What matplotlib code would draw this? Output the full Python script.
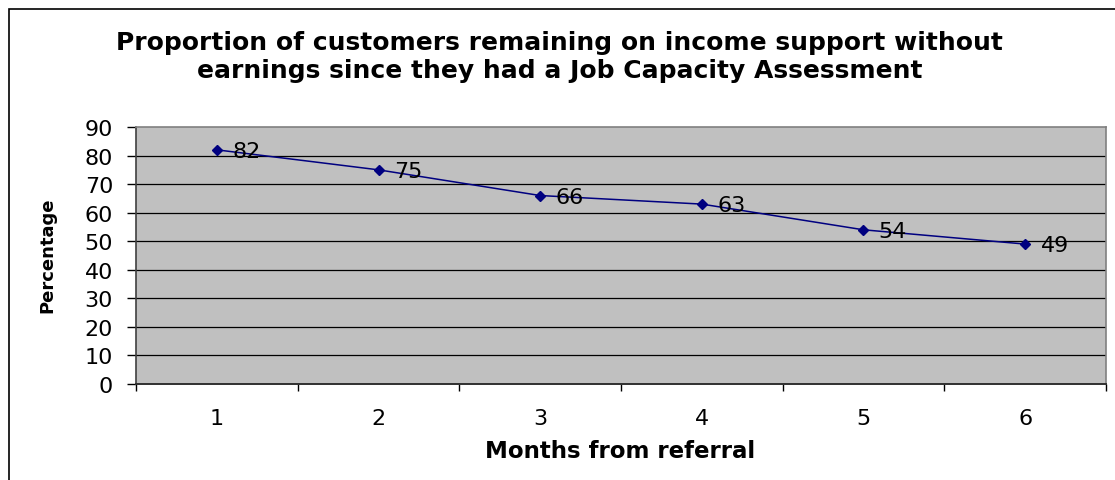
import matplotlib
matplotlib.use('Agg')
from matplotlib import pyplot as plt
from matplotlib.patches import Rectangle

# months since referral and share still on income support (%)
months = [1, 2, 3, 4, 5, 6]
month_labels = ['1', '2', '3', '4', '5', '6']
percentage = [82, 75, 66, 63, 54, 49]
y_ticks = [0, 10, 20, 30, 40, 50, 60, 70, 80, 90]

plt.rcParams['font.family'] = ['DejaVu Sans']

fig = plt.figure(figsize=(11.15, 4.81), dpi=100)

# outer chart frame
fig.patches.append(Rectangle((9 / 1115, -0.05), 1.2, 1.05 - 10 / 481,
                             transform=fig.transFigure, fill=False,
                             edgecolor='black', linewidth=1.2, zorder=0))

ax = fig.add_axes([136 / 1115, 1 - 385 / 481, 970 / 1115, 257 / 481])
ax.set_facecolor('#C0C0C0')

for y in y_ticks[1:-1]:
    ax.axhline(y, color='black', linewidth=0.9, zorder=1)

ax.plot(months, percentage, color='#000080', linewidth=1.1,
        marker='D', markersize=5.5, zorder=3)

for m, p in zip(months, percentage):
    ax.annotate(str(p), (m, p), xytext=(11, -1), textcoords='offset points',
                ha='left', va='center', fontsize=16, color='black', zorder=4)

ax.set_xlim(0.5, 6.5)
ax.set_ylim(0, 90)
ax.set_yticks(y_ticks)
ax.set_xticks(months)
ax.set_xticklabels(month_labels)
ax.set_xticks([m + 0.5 for m in [0] + months], minor=True)

ax.tick_params(axis='y', direction='out', length=6.5, width=1, pad=10,
               labelsize=16, color='black')
ax.tick_params(axis='x', which='major', length=0, pad=17, labelsize=16)
ax.tick_params(axis='x', which='minor', direction='out', length=5, width=1,
               color='black')

for side in ['top', 'right']:
    ax.spines[side].set_color('#808080')
    ax.spines[side].set_linewidth(1.2)
ax.spines['left'].set_color('#404040')
ax.spines['bottom'].set_color('#303030')
ax.spines['left'].set_linewidth(1.2)
ax.spines['bottom'].set_linewidth(1.4)

fig.text(0.502, 1 - 43 / 481, 'Proportion of customers remaining on income support without',
         ha='center', va='center', fontsize=18, fontweight='bold')
fig.text(0.502, 1 - 71 / 481, 'earnings since they had a Job Capacity Assessment',
         ha='center', va='center', fontsize=18, fontweight='bold')

fig.text(620 / 1115, 1 - 452 / 481, 'Months from referral',
         ha='center', va='center', fontsize=16.5, fontweight='bold')
fig.text(47 / 1115, 1 - 255 / 481, 'Percentage', rotation=90,
         ha='center', va='center', fontsize=13, fontweight='bold')

plt.savefig('out.png', dpi=100)
plt.close()
